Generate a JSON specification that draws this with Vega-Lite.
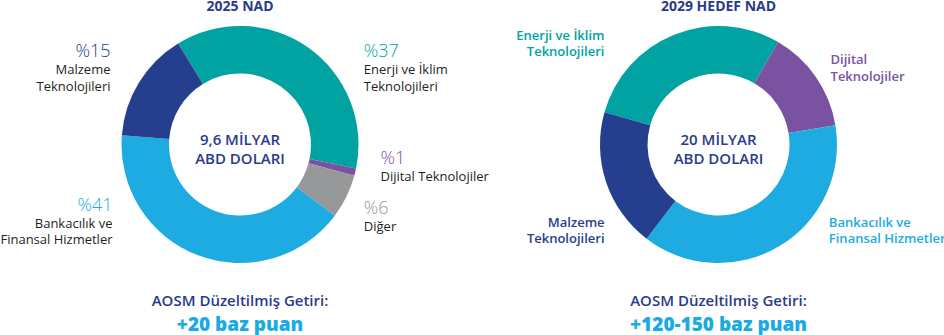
{
  "$schema": "https://vega.github.io/schema/vega-lite/v6.json",
  "padding": 0,
  "background": "white",
  "spacing": 28.5,
  "bounds": "flush",
  "config": {"view": {"stroke": null}, "font": "Open Sans", "text": {"font": "Open Sans"}},
  "datasets": {
    "nad2025": [
      {"i": 1, "seg": "Enerji", "value": 37, "pct": "%37", "name": "Enerji ve İklim\nTeknolojileri"},
      {"i": 2, "seg": "Dijital", "value": 1, "pct": "%1", "name": "Dijital Teknolojiler"},
      {"i": 3, "seg": "Diğer", "value": 6, "pct": "%6", "name": "Diğer"},
      {"i": 4, "seg": "Bankacılık", "value": 41, "pct": "%41", "name": "Bankacılık ve\nFinansal Hizmetler"},
      {"i": 5, "seg": "Malzeme", "value": 15, "pct": "%15", "name": "Malzeme\nTeknolojileri"}
    ],
    "nad2029": [
      {"i": 1, "seg": "Enerji", "value": 29, "name": "Enerji ve İklim\nTeknolojileri"},
      {"i": 2, "seg": "Dijital", "value": 14, "name": "Dijital\nTeknolojiler"},
      {"i": 3, "seg": "Bankacılık", "value": 38, "name": "Bankacılık ve\nFinansal Hizmetler"},
      {"i": 4, "seg": "Malzeme", "value": 19, "name": "Malzeme\nTeknolojileri"}
    ]
  },
  "hconcat": [
    {
      "title": {"text": "2025 NAD", "anchor": "middle", "frame": "group", "font": "Open Sans", "fontSize": 14, "fontWeight": 700, "color": "#2B3A8C", "offset": 5, "dy": 1},
      "width": 450,
      "height": 253,
      "layer": [
        {
          "data": {"name": "nad2025"},
          "mark": {"type": "arc", "radius": 118.5, "radius2": 71},
          "encoding": {
            "theta": {"field": "value", "type": "quantitative", "stack": true, "scale": {"range": [-0.549779, 5.733406]}},
            "order": {"field": "i", "type": "quantitative"},
            "color": {"field": "seg", "type": "nominal", "legend": null, "scale": {"domain": ["Enerji", "Dijital", "Diğer", "Bankacılık", "Malzeme"], "range": ["#00A3A1", "#7B52A1", "#97989A", "#1EABE2", "#253E8D"]}}
          }
        },
        {
          "data": {"name": "nad2025"},
          "transform": [{"stack": "value", "groupby": [], "sort": [{"field": "i", "order": "ascending"}], "as": ["a0", "a1"]}, {"filter": "datum.seg === 'Malzeme'"}],
          "encoding": {"theta": {"field": "a0", "type": "quantitative", "stack": null}, "theta2": {"field": "a1"}},
          "layer": [
            {"mark": {"type": "text", "radius": 156.3, "thetaOffset": 0.5157, "align": "right", "baseline": "alphabetic", "fontSize": 18, "fontWeight": 300},
             "encoding": {"color": {"field": "seg", "type": "nominal", "legend": null}, "text": {"field": "pct"}}},
            {"mark": {"type": "text", "radius": 147.2, "thetaOffset": 0.4171, "align": "right", "baseline": "alphabetic", "fontSize": 13, "lineBreak": "\n", "lineHeight": 16.5, "color": "#231F20"},
             "encoding": {"text": {"field": "name"}}}
          ]
        },
        {
          "data": {"name": "nad2025"},
          "transform": [{"stack": "value", "groupby": [], "sort": [{"field": "i", "order": "ascending"}], "as": ["a0", "a1"]}, {"filter": "datum.seg === 'Enerji'"}],
          "encoding": {"theta": {"field": "a0", "type": "quantitative", "stack": null}, "theta2": {"field": "a1"}},
          "layer": [
            {"mark": {"type": "text", "radius": 151.8, "thetaOffset": 1.5036, "align": "left", "baseline": "alphabetic", "fontSize": 18, "fontWeight": 300},
             "encoding": {"color": {"field": "seg", "type": "nominal", "legend": null}, "text": {"field": "pct"}}},
            {"mark": {"type": "text", "radius": 142.4, "thetaOffset": 1.604, "align": "left", "baseline": "alphabetic", "fontSize": 13, "lineBreak": "\n", "lineHeight": 16.5, "color": "#231F20"},
             "encoding": {"text": {"field": "name"}}}
          ]
        },
        {
          "data": {"name": "nad2025"},
          "transform": [{"stack": "value", "groupby": [], "sort": [{"field": "i", "order": "ascending"}], "as": ["a0", "a1"]}, {"filter": "datum.seg === 'Dijital'"}],
          "encoding": {"theta": {"field": "a0", "type": "quantitative", "stack": null}, "theta2": {"field": "a1"}},
          "layer": [
            {"mark": {"type": "text", "radius": 141.8, "thetaOffset": -0.0684, "align": "left", "baseline": "alphabetic", "fontSize": 18, "fontWeight": 300},
             "encoding": {"color": {"field": "seg", "type": "nominal", "legend": null}, "text": {"field": "pct"}}},
            {"mark": {"type": "text", "radius": 145.2, "thetaOffset": 0.052, "align": "left", "baseline": "alphabetic", "fontSize": 13, "lineBreak": "\n", "lineHeight": 16.5, "color": "#231F20"},
             "encoding": {"text": {"field": "name"}}}
          ]
        },
        {
          "data": {"name": "nad2025"},
          "transform": [{"stack": "value", "groupby": [], "sort": [{"field": "i", "order": "ascending"}], "as": ["a0", "a1"]}, {"filter": "datum.seg === 'Diğer'"}],
          "encoding": {"theta": {"field": "a0", "type": "quantitative", "stack": null}, "theta2": {"field": "a1"}},
          "layer": [
            {"mark": {"type": "text", "radius": 142, "thetaOffset": 0.2445, "align": "left", "baseline": "alphabetic", "fontSize": 18, "fontWeight": 300},
             "encoding": {"color": {"field": "seg", "type": "nominal", "legend": null}, "text": {"field": "pct"}}},
            {"mark": {"type": "text", "radius": 150.9, "thetaOffset": 0.3412, "align": "left", "baseline": "alphabetic", "fontSize": 13, "lineBreak": "\n", "lineHeight": 16.5, "color": "#231F20"},
             "encoding": {"text": {"field": "name"}}}
          ]
        },
        {
          "data": {"name": "nad2025"},
          "transform": [{"stack": "value", "groupby": [], "sort": [{"field": "i", "order": "ascending"}], "as": ["a0", "a1"]}, {"filter": "datum.seg === 'Bankacılık'"}],
          "encoding": {"theta": {"field": "a0", "type": "quantitative", "stack": null}, "theta2": {"field": "a1"}},
          "layer": [
            {"mark": {"type": "text", "radius": 143.9, "thetaOffset": 2.015, "align": "right", "baseline": "alphabetic", "fontSize": 18, "fontWeight": 300},
             "encoding": {"color": {"field": "seg", "type": "nominal", "legend": null}, "text": {"field": "pct"}}},
            {"mark": {"type": "text", "radius": 152.4, "thetaOffset": 1.9178, "align": "right", "baseline": "alphabetic", "fontSize": 13, "lineBreak": "\n", "lineHeight": 16.5, "color": "#231F20"},
             "encoding": {"text": {"field": "name"}}}
          ]
        },
        {
          "data": {"values": [{"t": "9,6 MİLYAR\nABD DOLARI", "l1": "AOSM Düzeltilmiş Getiri:", "l2": "+20 baz puan"}]},
          "layer": [
            {"mark": {"type": "text", "align": "center", "baseline": "middle", "dy": -4.5, "fontSize": 15, "fontWeight": 600, "lineBreak": "\n", "lineHeight": 19, "color": "#2B3A8C"},
             "encoding": {"text": {"field": "t"}}},
            {"mark": {"type": "text", "align": "center", "baseline": "alphabetic", "dy": 35, "fontSize": 15, "fontWeight": 600, "color": "#2B3A8C"},
             "encoding": {"text": {"field": "l1"}, "y": {"value": "height"}}},
            {"mark": {"type": "text", "align": "center", "baseline": "alphabetic", "dy": 59.5, "fontSize": 19, "fontWeight": 800, "color": "#1AABE4"},
             "encoding": {"text": {"field": "l2"}, "y": {"value": "height"}}}
          ]
        }
      ]
    },
    {
      "title": {"text": "2029 HEDEF NAD", "anchor": "middle", "frame": "group", "font": "Open Sans", "fontSize": 14, "fontWeight": 700, "color": "#2B3A8C", "offset": 5, "dy": 1},
      "width": 450,
      "height": 253,
      "layer": [
        {
          "data": {"name": "nad2029"},
          "mark": {"type": "arc", "radius": 118.5, "radius2": 71},
          "encoding": {
            "theta": {"field": "value", "type": "quantitative", "stack": true, "scale": {"range": [-1.29503, 4.988155]}},
            "order": {"field": "i", "type": "quantitative"},
            "color": {"field": "seg", "type": "nominal", "legend": null, "scale": {"domain": ["Enerji", "Dijital", "Diğer", "Bankacılık", "Malzeme"], "range": ["#00A3A1", "#7B52A1", "#97989A", "#1EABE2", "#253E8D"]}}
          }
        },
        {
          "data": {"name": "nad2029"},
          "transform": [{"stack": "value", "groupby": [], "sort": [{"field": "i", "order": "ascending"}], "as": ["a0", "a1"]}, {"filter": "datum.seg === 'Enerji'"}],
          "mark": {"type": "text", "radius": 154.9, "thetaOffset": 0.4676, "align": "right", "baseline": "alphabetic", "fontSize": 13, "fontWeight": 600, "lineBreak": "\n", "lineHeight": 16.6},
          "encoding": {"theta": {"field": "a0", "type": "quantitative", "stack": null}, "theta2": {"field": "a1"}, "color": {"field": "seg", "type": "nominal", "legend": null}, "text": {"field": "name"}}
        },
        {
          "data": {"name": "nad2029"},
          "transform": [{"stack": "value", "groupby": [], "sort": [{"field": "i", "order": "ascending"}], "as": ["a0", "a1"]}, {"filter": "datum.seg === 'Dijital'"}],
          "mark": {"type": "text", "radius": 137.8, "thetaOffset": 0.4222, "align": "left", "baseline": "alphabetic", "fontSize": 13, "fontWeight": 600, "lineBreak": "\n", "lineHeight": 16.6},
          "encoding": {"theta": {"field": "a0", "type": "quantitative", "stack": null}, "theta2": {"field": "a1"}, "color": {"field": "seg", "type": "nominal", "legend": null}, "text": {"field": "name"}}
        },
        {
          "data": {"name": "nad2029"},
          "transform": [{"stack": "value", "groupby": [], "sort": [{"field": "i", "order": "ascending"}], "as": ["a0", "a1"]}, {"filter": "datum.seg === 'Bankacılık'"}],
          "mark": {"type": "text", "radius": 137.6, "thetaOffset": 0.8046, "align": "left", "baseline": "alphabetic", "fontSize": 13, "fontWeight": 600, "lineBreak": "\n", "lineHeight": 16.6},
          "encoding": {"theta": {"field": "a0", "type": "quantitative", "stack": null}, "theta2": {"field": "a1"}, "color": {"field": "seg", "type": "nominal", "legend": null}, "text": {"field": "name"}}
        },
        {
          "data": {"name": "nad2029"},
          "transform": [{"stack": "value", "groupby": [], "sort": [{"field": "i", "order": "ascending"}], "as": ["a0", "a1"]}, {"filter": "datum.seg === 'Malzeme'"}],
          "mark": {"type": "text", "radius": 140.5, "thetaOffset": 0.2934, "align": "right", "baseline": "alphabetic", "fontSize": 13, "fontWeight": 600, "lineBreak": "\n", "lineHeight": 16.6},
          "encoding": {"theta": {"field": "a0", "type": "quantitative", "stack": null}, "theta2": {"field": "a1"}, "color": {"field": "seg", "type": "nominal", "legend": null}, "text": {"field": "name"}}
        },
        {
          "data": {"values": [{"t": "20 MİLYAR\nABD DOLARI", "l1": "AOSM Düzeltilmiş Getiri:", "l2": "+120-150 baz puan"}]},
          "layer": [
            {"mark": {"type": "text", "align": "center", "baseline": "middle", "dy": -4.5, "fontSize": 15, "fontWeight": 600, "lineBreak": "\n", "lineHeight": 19, "color": "#2B3A8C"},
             "encoding": {"text": {"field": "t"}}},
            {"mark": {"type": "text", "align": "center", "baseline": "alphabetic", "dy": 35, "fontSize": 15, "fontWeight": 600, "color": "#2B3A8C"},
             "encoding": {"text": {"field": "l1"}, "y": {"value": "height"}}},
            {"mark": {"type": "text", "align": "center", "baseline": "alphabetic", "dy": 59.5, "fontSize": 19, "fontWeight": 800, "color": "#1AABE4"},
             "encoding": {"text": {"field": "l2"}, "y": {"value": "height"}}}
          ]
        }
      ]
    }
  ]
}
